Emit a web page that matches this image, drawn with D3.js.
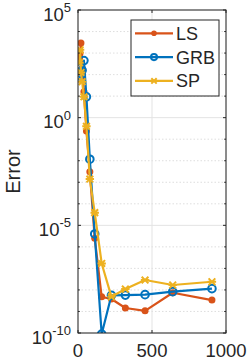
<!DOCTYPE html>
<html>
<head>
<meta charset="utf-8">
<script src="https://cdn.jsdelivr.net/npm/d3@7"></script>
<style>
body { margin: 0; background: #fff; }
text { font-family: "Liberation Sans", Arial, sans-serif; fill: #262626; }
</style>
</head>
<body>
<div class="chart"></div>
<script>
// sample sizes (x) and log10 of the error for each method
var nValues = [10, 14, 20, 28, 40, 57, 80, 113, 160, 226, 320, 453, 640, 905];
var lsLog   = [2.8, 3.0, 3.47, 2.3, 1.2, -0.62, -2.51, -5.6, -8.32, -8.42, -8.84, -8.97, -8.13, -8.47];
var grbLog  = [1.95, 2.3, 2.05, 2.2, 2.65, 0.97, -1.93, -5.4, -10.05, -8.25, -8.24, -8.22, -8.08, -7.94];
var spLog   = [2.55, 3.15, 2.1, 1.67, 0.97, -0.4, -2.85, -4.41, -6.77, -8.32, -7.96, -7.54, -7.77, -7.62];
var xTicks = [0, 500, 1000];
var yTickExp = [5, 0, -5, -10];

var svgWidth = 249, svgHeight = 361;
var margin = {top: 10, right: 23, bottom: 28, left: 78};
var width = svgWidth - margin.left - margin.right;
var height = svgHeight - margin.top - margin.bottom;
var axisColor = "#262626";

var svg = d3.select(".chart").append("svg")
    .attr("width", svgWidth).attr("height", svgHeight);
var chart = svg.append("g").attr("transform", `translate(${margin.left}, ${margin.top})`);

var xScale = d3.scaleLinear().domain([0, 1000]).range([0, width]);
var yScale = d3.scaleLog().domain([1e-10, 1e5]).range([height, 0]);

// grid
var decades = d3.range(-10, 6);
chart.selectAll(".minor-grid").data(decades.filter(function(e){ return e % 5 != 0; }))
    .enter().append("line")
    .attr("x1", 0).attr("x2", width)
    .attr("y1", function(e){ return yScale(Math.pow(10, e)); })
    .attr("y2", function(e){ return yScale(Math.pow(10, e)); })
    .attr("stroke", "#d6d6d6").attr("stroke-width", 0.8).attr("stroke-dasharray", "1.5,2");
chart.selectAll(".major-grid").data(yTickExp)
    .enter().append("line")
    .attr("x1", 0).attr("x2", width)
    .attr("y1", function(e){ return yScale(Math.pow(10, e)); })
    .attr("y2", function(e){ return yScale(Math.pow(10, e)); })
    .attr("stroke", "#e3e3e3").attr("stroke-width", 1);
chart.selectAll(".x-grid").data(xTicks)
    .enter().append("line")
    .attr("x1", function(d){ return xScale(d); }).attr("x2", function(d){ return xScale(d); })
    .attr("y1", 0).attr("y2", height)
    .attr("stroke", "#e3e3e3").attr("stroke-width", 1);

// series
var series = [
    {name: "LS", values: lsLog, color: "#D95319", marker: "dot"},
    {name: "GRB", values: grbLog, color: "#0072BD", marker: "circle"},
    {name: "SP", values: spLog, color: "#EDB120", marker: "star"}
];

svg.append("defs").append("clipPath").attr("id", "clip")
    .append("rect").attr("width", width).attr("height", height);

var plot = chart.append("g").attr("clip-path", "url(#clip)");

var line = d3.line()
    .x(function(d){ return xScale(d[0]); })
    .y(function(d){ return yScale(Math.pow(10, d[1])); });

function drawMarker(g, type, color, x, y, s) {
    if (type == "dot") {
        g.append("circle").attr("cx", x).attr("cy", y).attr("r", 3.5 * s).attr("fill", color);
    } else if (type == "circle") {
        g.append("circle").attr("cx", x).attr("cy", y).attr("r", 3.8 * s)
            .attr("fill", "none").attr("stroke", color).attr("stroke-width", 2);
    } else {
        var r = 4.2 * s;
        var p = `M${x - r},${y} L${x + r},${y} M${x - r * 0.8},${y - r * 0.8} L${x + r * 0.8},${y + r * 0.8} M${x - r * 0.8},${y + r * 0.8} L${x + r * 0.8},${y - r * 0.8}`;
        g.append("path").attr("d", p).attr("stroke", color).attr("stroke-width", 2).attr("fill", "none");
    }
}

series.forEach(function(s) {
    var pts = nValues.map(function(n, i){ return [n, s.values[i]]; });
    plot.append("path").datum(pts).attr("d", line)
        .attr("fill", "none").attr("stroke", s.color).attr("stroke-width", 2.2)
        .attr("stroke-linejoin", "round");
    pts.forEach(function(p) {
        drawMarker(plot, s.marker, s.color, xScale(p[0]), yScale(Math.pow(10, p[1])), 1);
    });
});

// axes box and ticks
chart.append("rect").attr("width", width).attr("height", height)
    .attr("fill", "none").attr("stroke", axisColor).attr("stroke-width", 1);

var tl = 3;
decades.forEach(function(e) {
    var y = yScale(Math.pow(10, e));
    var len = (e % 5 == 0) ? tl : tl * 0.6;
    chart.append("line").attr("x1", 0).attr("x2", len).attr("y1", y).attr("y2", y).attr("stroke", axisColor);
    chart.append("line").attr("x1", width).attr("x2", width - len).attr("y1", y).attr("y2", y).attr("stroke", axisColor);
});
xTicks.forEach(function(d) {
    var x = xScale(d);
    chart.append("line").attr("x1", x).attr("x2", x).attr("y1", height).attr("y2", height - tl).attr("stroke", axisColor);
    chart.append("line").attr("x1", x).attr("x2", x).attr("y1", 0).attr("y2", tl).attr("stroke", axisColor);
});

// tick labels
chart.selectAll(".x-label").data(xTicks).enter().append("text")
    .attr("x", function(d){ return xScale(d); })
    .attr("y", height + 24)
    .attr("text-anchor", "middle")
    .attr("font-size", "18.5px")
    .text(function(d){ return d; });

yTickExp.forEach(function(e) {
    var y = yScale(Math.pow(10, e));
    var t = chart.append("text")
        .attr("x", -7).attr("y", y + 10.5)
        .attr("text-anchor", "end")
        .attr("font-size", "18.5px");
    t.append("tspan").text("10");
    t.append("tspan").attr("font-size", "13px").attr("dy", -8.5).text(e);
});

// y label
chart.append("text")
    .attr("transform", `translate(${-58}, ${height / 2})rotate(-90)`)
    .attr("text-anchor", "middle")
    .attr("font-size", "20px")
    .text("Error");

// legend
var legend = svg.append("g").attr("transform", "translate(131, 20)");
legend.append("rect").attr("width", 88).attr("height", 76)
    .attr("fill", "#fff").attr("stroke", axisColor).attr("stroke-width", 1);
series.forEach(function(s, i) {
    var y = 13.3 + i * 23.8;
    legend.append("line").attr("x1", 4).attr("x2", 42).attr("y1", y).attr("y2", y)
        .attr("stroke", s.color).attr("stroke-width", 2.2);
    drawMarker(legend, s.marker, s.color, 23, y, 0.8);
    legend.append("text").attr("x", 45).attr("y", y + 6.5)
        .attr("font-size", "18px").attr("fill", "#000").text(s.name);
});
</script>
</body>
</html>
